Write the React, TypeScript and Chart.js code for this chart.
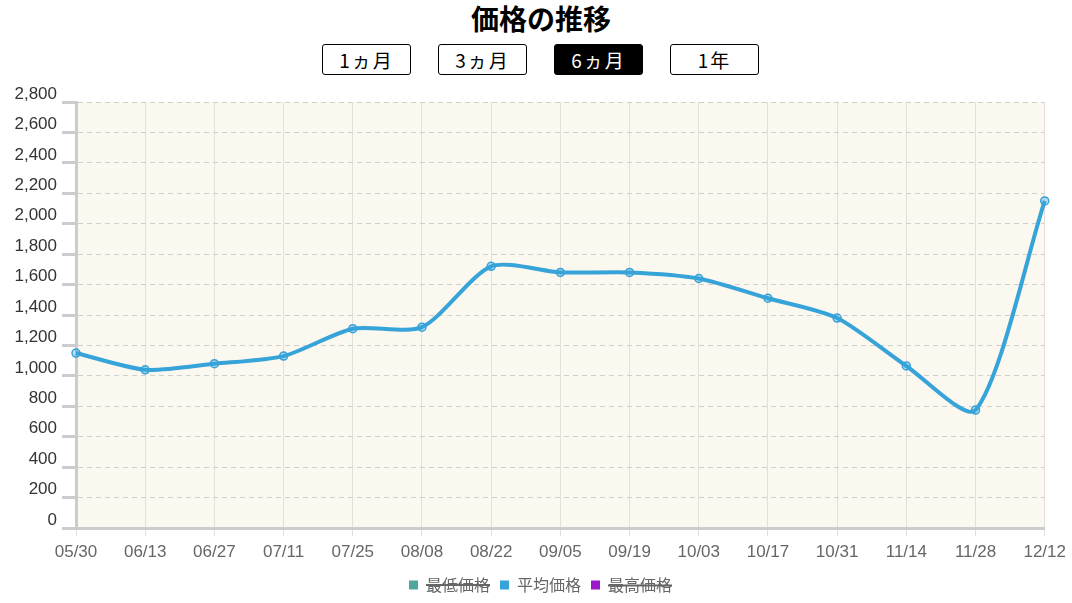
import React, { useEffect, useRef } from "react";
import { Chart, registerables } from "chart.js";

Chart.register(...registerables);

const categories = ["05/30", "06/13", "06/27", "07/11", "07/25", "08/08", "08/22", "09/05", "09/19", "10/03", "10/17", "10/31", "11/14", "11/28", "12/12"];
const avgPrice = [1150, 1040, 1080, 1130, 1310, 1320, 1720, 1680, 1680, 1640, 1510, 1380, 1065, 775, 2150];
const minPrice: (number | null)[] = [];
const maxPrice: (number | null)[] = [];
const periodButtons = ["1ヵ月", "3ヵ月", "6ヵ月", "1年"];
const activeButton = "6ヵ月";
const yMin = 0;
const yMax = 2800;
const yStep = 200;

const areaBg = {
  id: "areaBg",
  beforeDraw(chart: any) {
    const { ctx, chartArea } = chart;
    if (!chartArea) return;
    ctx.save();
    ctx.fillStyle = "#fbf8ef";
    ctx.fillRect(chartArea.left, chartArea.top, chartArea.right - chartArea.left, chartArea.bottom - chartArea.top);
    ctx.restore();
  },
};

const legendShift = {
  id: "legendShift",
  afterLayout(chart: any) {
    const lg = chart.legend;
    if (!lg) return;
    lg.left += 18;
    lg.right += 18;
  },
};

export default function App() {
  const ref = useRef<HTMLCanvasElement | null>(null);
  useEffect(() => {
    if (!ref.current) return;
    const tickFont = { family: "'Liberation Sans', Arial, sans-serif", size: 17 };
    const chart = new Chart(ref.current, {
      type: "line",
      data: {
        labels: categories,
        datasets: [
          {
            label: "最低価格",
            data: minPrice,
            borderColor: "#4da6a0",
            backgroundColor: "#4da6a0",
            hidden: true,
          },
          {
            label: "平均価格",
            data: avgPrice,
            borderColor: "#36a3d9",
            backgroundColor: "rgba(54,163,217,0.35)",
            borderWidth: 4,
            tension: 0.25,
            pointRadius: 4,
            pointBorderWidth: 1.5,
            pointBorderColor: "#36a3d9",
            pointBackgroundColor: "rgba(54,163,217,0.35)",
          },
          {
            label: "最高価格",
            data: maxPrice,
            borderColor: "#9b19c8",
            backgroundColor: "#9b19c8",
            hidden: true,
          },
        ],
      },
      options: {
        animation: false,
        responsive: false,
        maintainAspectRatio: false,
        layout: { padding: { top: 22, right: 27, left: 0, bottom: 0 } },
        plugins: {
          title: { display: false },
          tooltip: { enabled: false },
          legend: {
            display: true,
            position: "bottom",
            labels: {
              boxWidth: 9,
              boxHeight: 9,
              padding: 10,
              color: "#666",
              font: { family: "'Noto Sans CJK JP', sans-serif", size: 16 },
              generateLabels: (c: any) => {
                const items = Chart.defaults.plugins.legend.labels.generateLabels(c);
                return items.map((it: any) => ({ ...it, fillStyle: it.strokeStyle, lineWidth: 0 }));
              },
            },
          },
        },
        scales: {
          x: {
            offset: false,
            grid: {
              display: true,
              color: "#e3e0d8",
              lineWidth: 1,
              tickLength: 8,
              tickColor: "#e3e0d8",
            },
            border: { display: true, color: "#cccccc", width: 3 },
            ticks: { color: "#666", font: tickFont, padding: 6, maxRotation: 0, autoSkip: false },
            afterFit: (s: any) => {
              s.height = 39;
            },
          },
          y: {
            min: yMin,
            max: yMax,
            grid: {
              color: "#cfcfcf",
              lineWidth: 1,
              tickLength: 14,
              tickColor: "#cccccc",
              tickWidth: 3,
            },
            border: { display: true, color: "#cccccc", width: 3, dash: [5, 4] },
            ticks: {
              stepSize: yStep,
              color: "#333",
              font: tickFont,
              padding: 5,
              labelOffset: -8,
              callback: (v: any) => Number(v).toLocaleString("en-US"),
            },
            afterFit: (s: any) => {
              s.width = 76;
            },
          },
        },
      },
      plugins: [areaBg, legendShift],
    });
    return () => chart.destroy();
  }, []);

  return (
    <div style={{ position: "relative", width: 1072, height: 603, background: "#fff", fontFamily: "'Noto Sans CJK JP', sans-serif" }}>
      <style>{"body{margin:0;}"}</style>
      <div
        style={{
          position: "absolute",
          top: 0,
          left: 0,
          width: 1082,
          textAlign: "center",
          fontSize: 28,
          fontWeight: 700,
          lineHeight: "36px",
          color: "#000",
        }}
      >
        価格の推移
      </div>
      {periodButtons.map((b, i) => {
        const active = b === activeButton;
        return (
          <div
            key={b}
            style={{
              position: "absolute",
              top: 44,
              left: 322 + i * 116,
              width: 89,
              height: 31,
              boxSizing: "border-box",
              border: "1px solid #000",
              borderRadius: 3,
              background: active ? "#000" : "#fff",
              color: active ? "#fff" : "#000",
              fontFamily: "'Noto Sans CJK JP', sans-serif",
              fontSize: 19,
              lineHeight: "29px",
              textAlign: "center",
              letterSpacing: 2,
            }}
          >
            {b}
          </div>
        );
      })}
      <canvas ref={ref} width={1072} height={523} style={{ position: "absolute", top: 80, left: 0, width: 1072, height: 523 }} />
    </div>
  );
}
